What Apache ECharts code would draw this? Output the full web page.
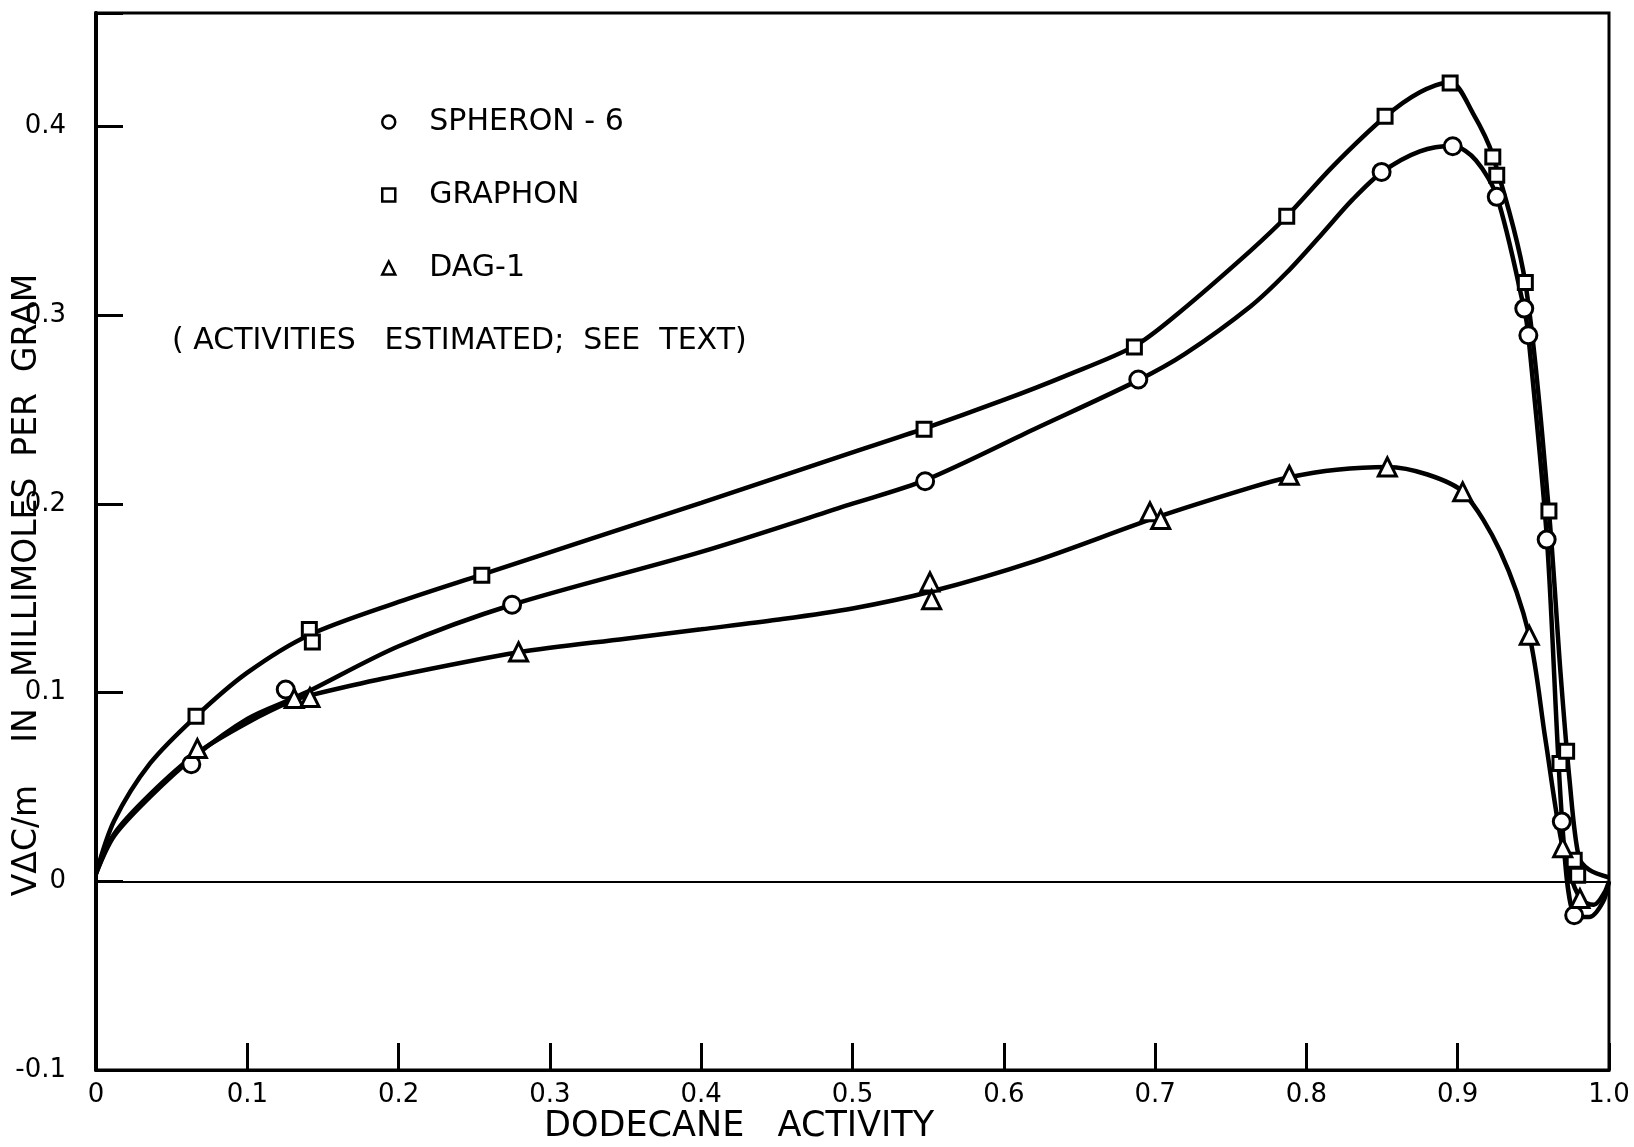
<!DOCTYPE html>
<html>
<head>
<meta charset="utf-8">
<script src="https://cdn.jsdelivr.net/npm/echarts@6/dist/echarts.min.js"></script>
<style>
html, body { margin: 0; padding: 0; background: #fff; }
#chart { width: 1634px; height: 1147px; }
</style>
</head>
<body>
<div id="chart"></div>
<script>
// Measured points: [dodecane activity, VΔC/m in mmol/g]
const spheronPoints = [[0.063,0.062],[0.1254,0.1016],[0.2750,0.1465],[0.548,0.2119],[0.6889,0.2658],[0.8497,0.3758],[0.8967,0.3894],[0.9258,0.3626],[0.944,0.3034],[0.9467,0.2893],[0.9588,0.181],[0.9688,0.0316],[0.977,-0.018]];
const graphonPoints = [[0.0661,0.0874],[0.141,0.1334],[0.143,0.1268],[0.255,0.1621],[0.5473,0.2395],[0.6863,0.2831],[0.787,0.3523],[0.852,0.4053],[0.895,0.4229],[0.9232,0.3837],[0.9258,0.374],[0.9447,0.3172],[0.9603,0.1962],[0.9676,0.0624],[0.972,0.0689],[0.977,0.0111],[0.9793,0.0032]];
const dagPoints = [[0.067,0.0703],[0.131,0.0968],[0.1414,0.0973],[0.2793,0.1215],[0.5512,0.1586],[0.5523,0.1492],[0.6966,0.1957],[0.7037,0.1916],[0.7887,0.2151],[0.8535,0.2195],[0.9033,0.2063],[0.9473,0.1303],[0.9694,0.0178],[0.9808,-0.0092]];

// Hand-drawn smooth curves through each set of points
const spheronCurve = [[0,0.004],[0.012,0.024],[0.0357,0.0447],[0.065,0.066],[0.1,0.086],[0.13,0.0968],[0.1414,0.101],[0.2,0.1245],[0.275,0.1465],[0.4,0.1745],[0.498,0.1995],[0.548,0.2125],[0.62,0.2395],[0.689,0.2655],[0.72,0.2795],[0.763,0.3045],[0.787,0.3225],[0.81,0.3427],[0.83,0.3607],[0.85,0.3757],[0.875,0.3867],[0.897,0.3895],[0.912,0.382],[0.926,0.3625],[0.944,0.303],[0.9467,0.289],[0.959,0.181],[0.969,0.032],[0.977,-0.018],[0.987,-0.019],[0.996,-0.011],[1.0,0]];
const graphonCurve = [[0,0.004],[0.012,0.032],[0.0357,0.0624],[0.0661,0.0874],[0.1,0.1105],[0.141,0.1305],[0.2,0.148],[0.255,0.1625],[0.4,0.2005],[0.498,0.2267],[0.5473,0.2398],[0.6,0.255],[0.64,0.2675],[0.6863,0.2835],[0.715,0.3007],[0.763,0.334],[0.787,0.3523],[0.8178,0.379],[0.852,0.405],[0.875,0.418],[0.895,0.4235],[0.91,0.407],[0.9232,0.3845],[0.9447,0.317],[0.9603,0.196],[0.968,0.11],[0.974,0.053],[0.98,0.013],[0.987,0.006],[1.0,0.002]];
const dagCurve = [[0,0.004],[0.012,0.025],[0.0357,0.046],[0.067,0.068],[0.1,0.084],[0.1304,0.0959],[0.1414,0.0985],[0.19,0.1074],[0.2793,0.1213],[0.35,0.1285],[0.4,0.1335],[0.45,0.1385],[0.5,0.1445],[0.552,0.1535],[0.62,0.1695],[0.70,0.1925],[0.763,0.2085],[0.7887,0.214],[0.82,0.218],[0.8535,0.2195],[0.88,0.2155],[0.9033,0.2063],[0.928,0.175],[0.9473,0.1303],[0.958,0.075],[0.9694,0.0178],[0.9808,-0.0092],[0.99,-0.0125],[0.997,-0.006],[1.0,0]];

const xTickLabels = ['0','0.1','0.2','0.3','0.4','0.5','0.6','0.7','0.8','0.9','1.0'];
const yTickLabels = ['-0.1','0','0.1','0.2','0.3','0.4'];

const seriesNames = ['SPHERON - 6', 'GRAPHON', 'DAG-1'];
const xTitle = 'DODECANE   ACTIVITY';
const yTitle = 'VΔC/m    IN   MILLIMOLES  PER  GRAM';
const note = '( ACTIVITIES   ESTIMATED;  SEE  TEXT)';

const FONT = 'DejaVu Sans';
const markerStyle = { color: '#fff', borderColor: '#000', borderWidth: 3, opacity: 1 };
const curveStyle = { color: '#000', width: 4.5 };

function curve(data, extra) {
  return Object.assign({
    type: 'line', data: data, showSymbol: false, smooth: 0.3,
    lineStyle: curveStyle, itemStyle: { color: '#000' }, z: 2, silent: true
  }, extra || {});
}
function points(name, data, symbol, size) {
  return {
    type: 'scatter', name: name, data: data, symbol: symbol, symbolSize: size,
    itemStyle: markerStyle, z: 4
  };
}

const chart = echarts.init(document.getElementById('chart'), null, { renderer: 'canvas' });
chart.setOption({
  animation: false,
  backgroundColor: '#fff',
  grid: { left: 96, right: 25, top: 13, bottom: 77, show: true, borderColor: '#000', borderWidth: 3 },
  xAxis: {
    type: 'value', min: 0, max: 1, interval: 0.1,
    axisLine: { show: true, onZero: false, lineStyle: { color: '#000', width: 3 } },
    axisTick: { show: true, inside: true, length: 27, lineStyle: { color: '#000', width: 3 } },
    axisLabel: {
      margin: 12, color: '#000', fontFamily: FONT, fontSize: 26, lineHeight: 26,
      formatter: v => { const i = Math.round(v * 10); return Math.abs(v * 10 - i) < 1e-6 ? (xTickLabels[i] || '') : ''; }
    },
    splitLine: { show: false }
  },
  yAxis: {
    type: 'value', min: -0.1, max: 0.46, interval: 0.1,
    axisLine: { show: true, onZero: false, lineStyle: { color: '#000', width: 4 } },
    axisTick: { show: true, inside: true, length: 27, lineStyle: { color: '#000', width: 3 } },
    axisLabel: {
      margin: 30, color: '#000', fontFamily: FONT, fontSize: 26,
      formatter: v => { const i = Math.round(v * 10); return Math.abs(v * 10 - i) < 1e-6 ? (yTickLabels[i + 1] || '') : ''; }
    },
    splitLine: { show: false }
  },
  legend: {
    orient: 'vertical', left: 381, top: 107, padding: 0,
    itemWidth: 13, itemHeight: 13, itemGap: 43, selectedMode: false,
    itemStyle: { color: '#fff', borderColor: '#000', borderWidth: 2.5, opacity: 1 },
    textStyle: { fontFamily: FONT, fontSize: 30, color: '#000', lineHeight: 30, padding: [0, 0, 0, 29] },
    data: [
      { name: seriesNames[0], icon: 'circle' },
      { name: seriesNames[1], icon: 'rect' },
      { name: seriesNames[2], icon: 'triangle' }
    ]
  },
  graphic: [
    { type: 'text', x: 172, y: 341, style: { text: note, font: '30px "' + FONT + '"', fill: '#000', textAlign: 'left', textVerticalAlign: 'middle' } },
    { type: 'text', x: 544, y: 1127, style: { text: xTitle, font: '35px "' + FONT + '"', fill: '#000', textAlign: 'left', textVerticalAlign: 'middle' } },
    { type: 'text', x: 27, y: 585, rotation: Math.PI / 2, style: { text: yTitle, font: '33px "' + FONT + '"', fill: '#000', textAlign: 'center', textVerticalAlign: 'middle' } }
  ],
  series: [
    curve(spheronCurve, {
      markLine: {
        silent: true, symbol: 'none', label: { show: false },
        lineStyle: { color: '#000', width: 2, type: 'solid' },
        data: [{ yAxis: 0 }]
      }
    }),
    curve(graphonCurve),
    curve(dagCurve),
    points(seriesNames[0], spheronPoints, 'circle', 17),
    points(seriesNames[1], graphonPoints, 'rect', 14),
    points(seriesNames[2], dagPoints, 'triangle', 18)
  ]
});
</script>
</body>
</html>
